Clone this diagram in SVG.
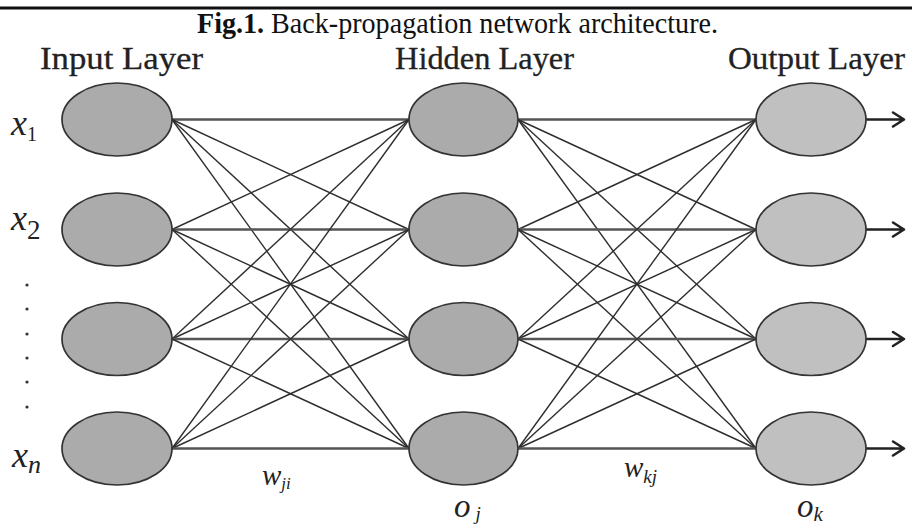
<svg xmlns="http://www.w3.org/2000/svg" width="912" height="525" viewBox="0 0 912 525">
  <style>
    .cap { font-family: "Liberation Serif", "Times New Roman", serif; fill: #111; }
    .lbl { font-family: "Liberation Serif", "Times New Roman", serif; font-size: 32px; fill: #222; stroke: #222; stroke-width: 0.3; }
    .math { font-family: "Liberation Serif", "Times New Roman", serif; font-style: italic; fill: #222; }
    .inode { fill: #ababab; stroke: #333; stroke-width: 1.7; }
    .hnode { fill: #ababab; stroke: #333; stroke-width: 1.7; }
    .onode { fill: #c0c0c0; stroke: #333; stroke-width: 1.7; }
    .w { stroke: #2e2e2e; stroke-width: 1.4; fill: none; }
    .wh { stroke: #555; stroke-width: 2.3; fill: none; }
    .out { stroke: #222; stroke-width: 2.6; fill: none; stroke-linecap: round; stroke-linejoin: round; }
  </style>

  <!-- top rule -->
  <line x1="0" y1="8" x2="912" y2="8" stroke="#111" stroke-width="3"/>

  <!-- caption -->
  <text class="cap" x="197" y="33" font-size="29" textLength="521" lengthAdjust="spacingAndGlyphs"><tspan font-weight="bold">Fig.1.</tspan> Back-propagation network architecture.</text>

  <!-- layer titles -->
  <text class="lbl" x="40" y="69" textLength="163" lengthAdjust="spacingAndGlyphs">Input Layer</text>
  <text class="lbl" x="395" y="69" textLength="179" lengthAdjust="spacingAndGlyphs">Hidden Layer</text>
  <text class="lbl" x="728" y="69" textLength="177" lengthAdjust="spacingAndGlyphs">Output Layer</text>

  <!-- weighted connections -->
  <g id="connectors">
    <!-- input -> hidden -->
    <line class="wh" x1="172" y1="119.5" x2="409" y2="119.5"/>
    <line class="w" x1="172" y1="119.5" x2="409" y2="229.5"/>
    <line class="w" x1="172" y1="119.5" x2="409" y2="339"/>
    <line class="w" x1="172" y1="119.5" x2="409" y2="448.5"/>
    <line class="w" x1="172" y1="229.5" x2="409" y2="119.5"/>
    <line class="wh" x1="172" y1="229.5" x2="409" y2="229.5"/>
    <line class="w" x1="172" y1="229.5" x2="409" y2="339"/>
    <line class="w" x1="172" y1="229.5" x2="409" y2="448.5"/>
    <line class="w" x1="172" y1="339" x2="409" y2="119.5"/>
    <line class="w" x1="172" y1="339" x2="409" y2="229.5"/>
    <line class="wh" x1="172" y1="339" x2="409" y2="339"/>
    <line class="w" x1="172" y1="339" x2="409" y2="448.5"/>
    <line class="w" x1="172" y1="448.5" x2="409" y2="119.5"/>
    <line class="w" x1="172" y1="448.5" x2="409" y2="229.5"/>
    <line class="w" x1="172" y1="448.5" x2="409" y2="339"/>
    <line class="wh" x1="172" y1="448.5" x2="409" y2="448.5"/>
    <!-- hidden -> output -->
    <line class="wh" x1="518" y1="119.5" x2="756" y2="119.5"/>
    <line class="w" x1="518" y1="119.5" x2="756" y2="229.5"/>
    <line class="w" x1="518" y1="119.5" x2="756" y2="339"/>
    <line class="w" x1="518" y1="119.5" x2="756" y2="448.5"/>
    <line class="w" x1="518" y1="229.5" x2="756" y2="119.5"/>
    <line class="wh" x1="518" y1="229.5" x2="756" y2="229.5"/>
    <line class="w" x1="518" y1="229.5" x2="756" y2="339"/>
    <line class="w" x1="518" y1="229.5" x2="756" y2="448.5"/>
    <line class="w" x1="518" y1="339" x2="756" y2="119.5"/>
    <line class="w" x1="518" y1="339" x2="756" y2="229.5"/>
    <line class="wh" x1="518" y1="339" x2="756" y2="339"/>
    <line class="w" x1="518" y1="339" x2="756" y2="448.5"/>
    <line class="w" x1="518" y1="448.5" x2="756" y2="119.5"/>
    <line class="w" x1="518" y1="448.5" x2="756" y2="229.5"/>
    <line class="w" x1="518" y1="448.5" x2="756" y2="339"/>
    <line class="wh" x1="518" y1="448.5" x2="756" y2="448.5"/>
    <!-- outputs -->
    <path class="out" d="M866 119.5H903M893 112.5L904 119.5L893 126.5"/>
    <path class="out" d="M866 229.5H903M893 222.5L904 229.5L893 236.5"/>
    <path class="out" d="M866 339H903M893 332L904 339L893 346"/>
    <path class="out" d="M866 448.5H903M893 441.5L904 448.5L893 455.5"/>
  </g>

  <!-- input layer -->
  <g id="in1"><ellipse class="inode" cx="117" cy="119.5" rx="55" ry="36.5"/></g>
  <g id="in2"><ellipse class="inode" cx="117" cy="229.5" rx="55" ry="36.5"/></g>
  <g id="in3"><ellipse class="inode" cx="117" cy="339" rx="55" ry="36.5"/></g>
  <g id="in4"><ellipse class="inode" cx="117" cy="448.5" rx="55" ry="36.5"/></g>

  <!-- hidden layer -->
  <g id="hid1"><ellipse class="hnode" cx="463.5" cy="119.5" rx="54.5" ry="36.5"/></g>
  <g id="hid2"><ellipse class="hnode" cx="463.5" cy="229.5" rx="54.5" ry="36.5"/></g>
  <g id="hid3"><ellipse class="hnode" cx="463.5" cy="339" rx="54.5" ry="36.5"/></g>
  <g id="hid4"><ellipse class="hnode" cx="463.5" cy="448.5" rx="54.5" ry="36.5"/></g>

  <!-- output layer -->
  <g id="out1"><ellipse class="onode" cx="811" cy="119.5" rx="55" ry="36.5"/></g>
  <g id="out2"><ellipse class="onode" cx="811" cy="229.5" rx="55" ry="36.5"/></g>
  <g id="out3"><ellipse class="onode" cx="811" cy="339" rx="55" ry="36.5"/></g>
  <g id="out4"><ellipse class="onode" cx="811" cy="448.5" rx="55" ry="36.5"/></g>

  <!-- input symbols -->
  <text class="math" x="11" y="135" font-size="36">x<tspan font-size="20" font-style="normal" dy="6">1</tspan></text>
  <text class="math" x="11" y="230" font-size="36">x<tspan font-size="27" font-style="normal" dy="9">2</tspan></text>
  <g fill="#333">
    <circle cx="27" cy="285" r="1.6"/>
    <circle cx="27" cy="309" r="1.6"/>
    <circle cx="27" cy="334" r="1.6"/>
    <circle cx="27" cy="358" r="1.6"/>
    <circle cx="27" cy="382" r="1.6"/>
    <circle cx="27" cy="407" r="1.6"/>
  </g>
  <text class="math" x="12" y="467" font-size="36">x<tspan font-size="26" dy="6">n</tspan></text>

  <!-- weight and output symbols -->
  <text class="math" x="262" y="485" font-size="29">w<tspan font-size="17" dy="4">ji</tspan></text>
  <text class="math" x="454" y="517" font-size="33">o<tspan font-size="19" dx="5" dy="3">j</tspan></text>
  <text class="math" x="624" y="477" font-size="29">w<tspan font-size="19" dy="6">kj</tspan></text>
  <text class="math" x="797" y="517" font-size="33">o<tspan font-size="21" dy="4">k</tspan></text>
</svg>
